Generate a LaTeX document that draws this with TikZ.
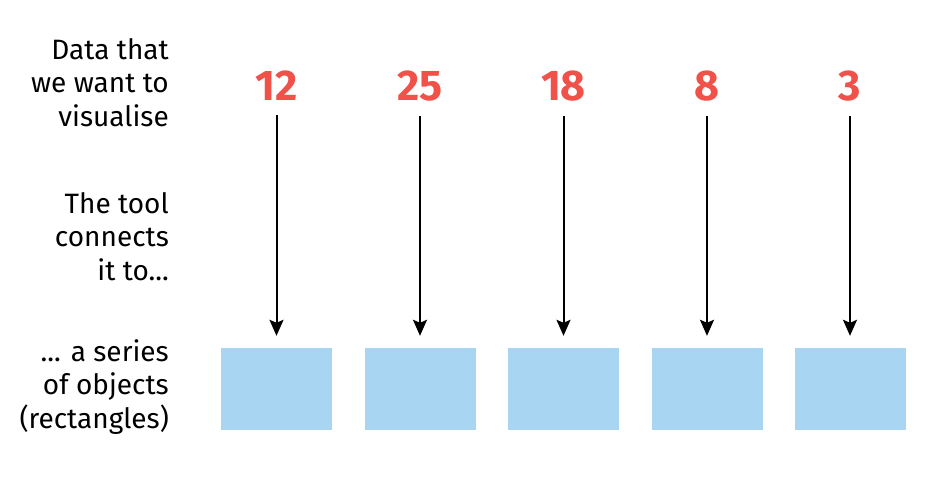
\documentclass[tikz,border=0pt]{standalone}
\usepackage{fontspec}
\setmainfont{Fira Sans}
\usetikzlibrary{arrows.meta}
\definecolor{numred}{HTML}{F0524A}
\definecolor{boxblue}{HTML}{A7D5F2}
\begin{document}
\begin{tikzpicture}[x=1pt,y=-1pt,
  lbl/.style={align=right,anchor=base east,inner sep=0pt,font=\fontsize{28}{33.5}\selectfont},
  num/.style={anchor=base,inner sep=0pt,text=numred,font=\fontsize{43}{50}\selectfont\bfseries},
  obj/.style={fill=boxblue,minimum width=111pt,minimum height=82pt,inner sep=0pt},
  conn/.style={line width=2pt,-{Stealth[length=16pt,width=14pt,inset=3pt]},shorten <=15pt,shorten >=12pt}]
\useasboundingbox (0,0) rectangle (951,483);
\node[lbl] (l1) at (169,126) {Data that\\we want to\\visualise};
\node[lbl] (l2) at (169,280) {The tool\\connects\\it to...};
\node[lbl] (l3) at (169,428) {... a series\\of objects\\(rectangles)};
\foreach \i/\x/\v in {1/276.5/12,2/420/25,3/563.5/18,4/707/8,5/850/3}{
  \node[num] (n\i) at (\x,100) {\v};
  \node[obj] (r\i) at (\x,389) {};
  \draw[conn] (n\i.south) -- (r\i.north);
}
\end{tikzpicture}
\end{document}
